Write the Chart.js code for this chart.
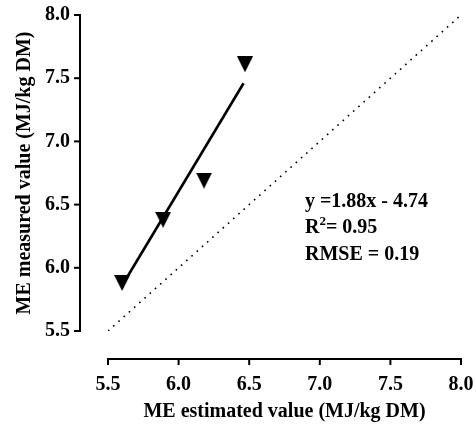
<!DOCTYPE html>
<html><head><meta charset="utf-8">
<script src="https://cdn.jsdelivr.net/npm/chart.js@4.4.0/dist/chart.umd.min.js"></script>
<style>html,body{margin:0;padding:0;background:#fff;} canvas{display:block;}</style>
</head><body>
<canvas id="c" width="476" height="425"></canvas>
<script>
// ---- data ----
const estimatedME = [5.60, 5.89, 6.18, 6.47];
const measuredME  = [5.88, 6.38, 6.69, 7.61];
const fitX = [5.60, 6.46];
const fitY = [5.86, 7.46];
const identityXY = [5.5, 8.0];
const axisMin = 5.5, axisMax = 8.0, axisStep = 0.5;
const xTitle = 'ME estimated value (MJ/kg DM)';
const yTitle = 'ME measured value (MJ/kg DM)';
const statEq = 'y =1.88x - 4.74';
const statR2 = '= 0.95';
const statRmse = 'RMSE = 0.19';

const FONT = '"Liberation Serif", "Times New Roman", serif';

function triangleMarker(size){
  const c = document.createElement('canvas');
  c.width = size; c.height = size;
  const g = c.getContext('2d');
  g.fillStyle = '#000';
  g.beginPath(); g.moveTo(0,0); g.lineTo(size,0); g.lineTo(size/2,size); g.closePath(); g.fill();
  return c;
}
const tri = triangleMarker(16);

function zeroPad(s){ s.paddingLeft = 0; s.paddingRight = 0; s.paddingTop = 0; s.paddingBottom = 0; }

const offsetAxes = {
  id: 'offsetAxes',
  afterDraw(chart){
    const {ctx, chartArea: a, scales: {x, y}} = chart;
    ctx.save();
    ctx.fillStyle = '#000';
    // offset axes (Prism style), positioned from the scales
    const ax = Math.round(a.left - 28), ay = Math.round(a.bottom + 28);
    const yTop = y.getPixelForValue(axisMax), yBot = y.getPixelForValue(axisMin);
    ctx.fillRect(ax - 1, yTop - 1, 2, yBot - yTop + 2);
    y.ticks.forEach(t => { const p = y.getPixelForValue(t.value); ctx.fillRect(ax - 6, p - 1, 6, 2); });
    const xL = x.getPixelForValue(axisMin), xR = x.getPixelForValue(axisMax);
    ctx.fillRect(xL - 1, ay - 1, xR - xL + 2, 2);
    x.ticks.forEach(t => { const p = x.getPixelForValue(t.value); ctx.fillRect(p - 1, ay, 2, 6); });

    // statistics text
    ctx.textBaseline = 'alphabetic'; ctx.textAlign = 'left';
    const tx = x.getPixelForValue(6.895);
    ctx.font = 'bold 20px ' + FONT;
    ctx.fillText(statEq, tx, y.getPixelForValue(6.478));
    const yR = y.getPixelForValue(6.275);
    ctx.fillText('R', tx, yR);
    const rw = ctx.measureText('R').width;
    ctx.font = 'bold 13px ' + FONT;
    ctx.fillText('2', tx + rw, yR - 8);
    const w2 = ctx.measureText('2').width;
    ctx.font = 'bold 20px ' + FONT;
    ctx.fillText(statR2, tx + rw + w2, yR);
    ctx.fillText(statRmse, tx, y.getPixelForValue(6.062));
    ctx.restore();
  }
};

new Chart(document.getElementById('c'), {
  type: 'scatter',
  data: {
    datasets: [
      {
        data: identityXY.map(v => ({x: v, y: v})),
        showLine: true, borderColor: '#000', borderWidth: 1.6, borderDash: [1.6, 5.4],
        pointRadius: 0, order: 3
      },
      {
        data: fitX.map((v, i) => ({x: v, y: fitY[i]})),
        showLine: true, borderColor: '#000', borderWidth: 2.6,
        pointRadius: 0, order: 2
      },
      {
        data: estimatedME.map((v, i) => ({x: v, y: measuredME[i]})),
        pointStyle: tri, pointRadius: 8, showLine: false, order: 1
      }
    ]
  },
  options: {
    responsive: false, animation: false, devicePixelRatio: 1,
    layout: { padding: { top: 15, right: 15, left: 0, bottom: 0 } },
    plugins: { legend: { display: false }, tooltip: { enabled: false } },
    scales: {
      x: {
        type: 'linear', min: axisMin, max: axisMax,
        grid: { display: false, drawTicks: false }, border: { display: false },
        ticks: { stepSize: axisStep, color: '#000', padding: 42, font: { family: FONT, size: 20, weight: 'bold' }, callback: v => v.toFixed(1) },
        title: { display: true, text: xTitle, color: '#000', padding: { top: 0, bottom: 1 }, font: { family: FONT, size: 20, weight: 'bold' } },
        afterFit: s => { s.height = 94; zeroPad(s); }
      },
      y: {
        type: 'linear', min: axisMin, max: axisMax,
        grid: { display: false, drawTicks: false }, border: { display: false },
        ticks: { stepSize: axisStep, color: '#000', padding: 38, font: { family: FONT, size: 20, weight: 'bold' }, callback: v => v.toFixed(1) },
        title: { display: true, text: yTitle, color: '#000', padding: { top: 13, bottom: 0 }, font: { family: FONT, size: 20, weight: 'bold' } },
        afterFit: s => { s.width = 108; zeroPad(s); }
      }
    }
  },
  plugins: [offsetAxes]
});
</script>
</body></html>
